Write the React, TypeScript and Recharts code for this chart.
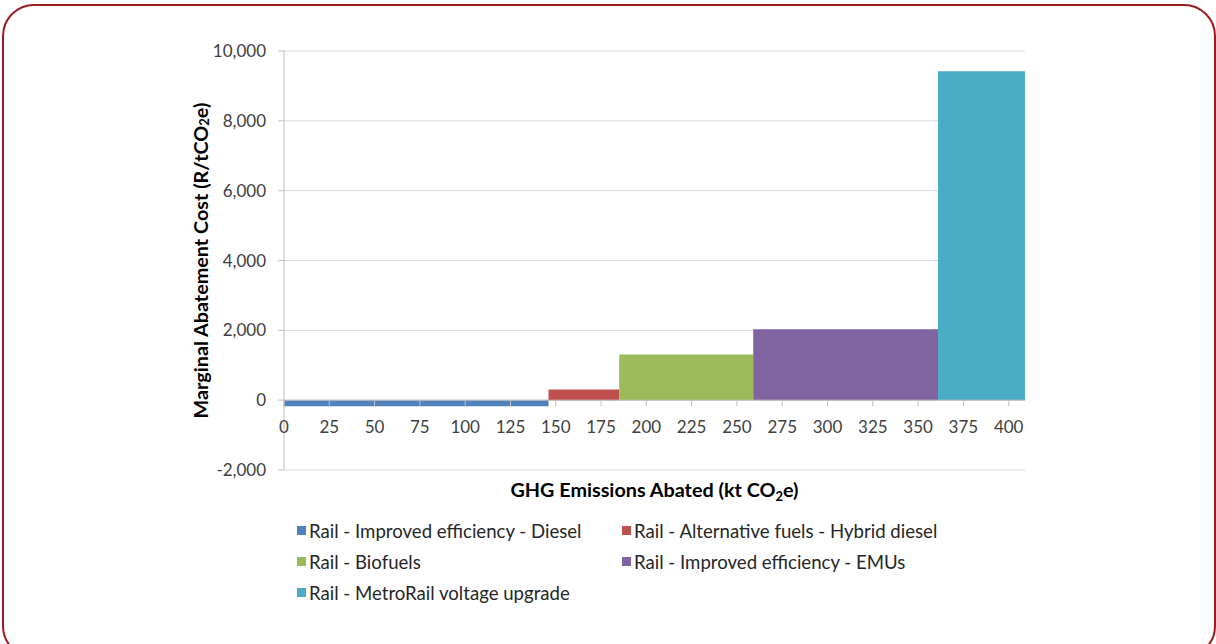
import React from "react";
import {
  ComposedChart,
  Area,
  XAxis,
  YAxis,
  CartesianGrid,
  ReferenceLine,
} from "recharts";

// Marginal abatement cost curve — rail measures
const measures = [
  "Rail - Improved efficiency - Diesel",
  "Rail - Alternative fuels - Hybrid diesel",
  "Rail - Biofuels",
  "Rail - Improved efficiency - EMUs",
  "Rail - MetroRail voltage upgrade",
];
// abated emissions per measure (kt CO2e) -> bar widths
const abated = [146, 39, 74, 102, 48];
// marginal cost (R/tCO2e) -> bar heights
const costs = [-175, 305, 1305, 2030, 9420];
const colors = ["#4f81bd", "#c0504d", "#9bbb59", "#8064a2", "#4bacc6"];

const xTicks = [0, 25, 50, 75, 100, 125, 150, 175, 200, 225, 250, 275, 300, 325, 350, 375, 400];
const yTicks = [-2000, 0, 2000, 4000, 6000, 8000, 10000];
const X_MAX = 409;
const Y_MIN = -2000;
const Y_MAX = 10000;

// chart geometry
const W = 1216;
const H = 644;
const MARGIN = { top: 51, right: 191, left: 170, bottom: 144 };
const X_AXIS_H = 30;
const PLOT_H = H - MARGIN.top - MARGIN.bottom - X_AXIS_H;
const ZERO_SHIFT = (PLOT_H * (0 - Y_MIN)) / (Y_MAX - Y_MIN);

const FONT = "Lato, 'Open Sans', sans-serif";
const AXIS_GRAY = "#bfbfbf";

// one row per boundary on the cumulative x axis; each measure is set on its two edges
const bounds = abated.reduce<number[]>((acc, w) => [...acc, acc[acc.length - 1] + w], [0]);
const chartData = bounds.map((x, k) => {
  const row: Record<string, number | null> = { x };
  costs.forEach((c, i) => {
    row[`s${i}`] = k === i || k === i + 1 ? c : null;
  });
  return row;
});

// x axis drawn on the zero line rather than at the bottom of the plot
function ZeroAxisTick(props: any) {
  const { x, y, payload } = props;
  const y0 = y - 8 - ZERO_SHIFT;
  return (
    <g>
      <line x1={x} x2={x} y1={y0} y2={y0 + 6} stroke={AXIS_GRAY} />
      <text
        x={x}
        y={y0 + 33}
        textAnchor="middle"
        fontFamily={FONT}
        fontSize={17}
        fill="#404040"
      >
        {payload.value}
      </text>
    </g>
  );
}

function YTitle(props: any) {
  const { viewBox } = props;
  const cx = viewBox.x + 30;
  const cy = viewBox.y + viewBox.height / 2;
  return (
    <text
      x={cx}
      y={cy}
      transform={`rotate(-90, ${cx}, ${cy})`}
      textAnchor="middle"
      dominantBaseline="central"
      fontFamily={FONT}
      fontWeight={700}
      fontSize={19.8}
      fill="#000"
    >
      Marginal Abatement Cost (R/tCO
      <tspan dy={4} fontSize={13}>2</tspan>
      <tspan dy={-4}>e)</tspan>
    </text>
  );
}

function XTitle(props: any) {
  const { viewBox } = props;
  const cx = viewBox.x + viewBox.width / 2;
  return (
    <text
      x={cx}
      y={497}
      textAnchor="middle"
      fontFamily={FONT}
      fontWeight={700}
      fontSize={19.8}
      fill="#000"
    >
      GHG Emissions Abated (kt CO
      <tspan dy={4} fontSize={13}>2</tspan>
      <tspan dy={-4}>e)</tspan>
    </text>
  );
}

export default function App() {
  return (
    <div
      style={{
        position: "absolute",
        left: 0,
        top: 0,
        width: W,
        height: H,
        overflow: "hidden",
        background: "#fff",
      }}
    >
      {/* rounded frame */}
      <div
        style={{
          position: "absolute",
          left: 2,
          top: 4,
          width: 1210,
          height: 650,
          border: "2px solid #9e1b22",
          borderRadius: 32,
        }}
      />
      <div style={{ position: "absolute", left: 0, top: 0 }}>
        <ComposedChart width={W} height={H} data={chartData} margin={MARGIN}>
          <CartesianGrid vertical={false} stroke="#d9d9d9" />
          <XAxis
            dataKey="x"
            type="number"
            domain={[0, X_MAX]}
            ticks={xTicks}
            interval={0}
            height={X_AXIS_H}
            axisLine={false}
            tickLine={false}
            tick={<ZeroAxisTick />}
            label={<XTitle />}
          />
          <YAxis
            type="number"
            domain={[Y_MIN, Y_MAX]}
            ticks={yTicks}
            interval={0}
            width={114}
            stroke={AXIS_GRAY}
            tickMargin={12}
            tick={{ fontFamily: FONT, fontSize: 17, fill: "#404040" }}
            tickFormatter={(v: number) => v.toLocaleString("en-US")}
            label={<YTitle />}
          />
          {measures.map((m, i) => (
            <Area
              key={m}
              name={m}
              dataKey={`s${i}`}
              type="linear"
              baseValue={0}
              stroke="none"
              fill={colors[i]}
              fillOpacity={1}
              connectNulls={false}
              dot={false}
              activeDot={false}
              isAnimationActive={false}
            />
          ))}
          <ReferenceLine y={0} stroke={AXIS_GRAY} />
        </ComposedChart>
      </div>
      {/* legend, two columns as in the source */}
      <div
        style={{
          position: "absolute",
          left: 297,
          top: 515,
          display: "grid",
          gridTemplateColumns: "325px auto",
          gridAutoRows: 31,
          fontFamily: FONT,
          fontSize: 18.6,
          color: "#262626",
        }}
      >
        {measures.map((m, i) => (
          <div key={m} style={{ display: "flex", alignItems: "center" }}>
            <span
              style={{
                display: "inline-block",
                width: 9,
                height: 9,
                background: colors[i],
                marginRight: 3,
              }}
            />
            {m}
          </div>
        ))}
      </div>
    </div>
  );
}
